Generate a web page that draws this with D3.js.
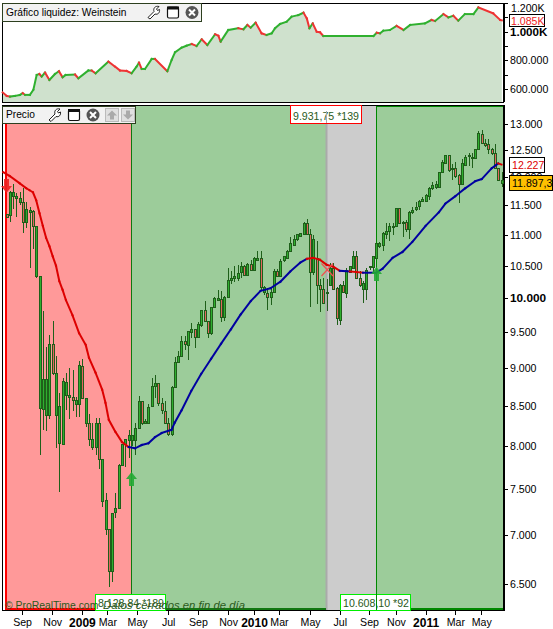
<!DOCTYPE html>
<html><head><meta charset="utf-8">
<script src="https://cdn.jsdelivr.net/npm/d3@7"></script>
<style>html,body{margin:0;padding:0;background:#fff}svg{display:block}text{font-family:"Liberation Sans",Arial,sans-serif}</style>
</head><body><svg id="c" width="553" height="629"></svg>
<script>
// weekly candles: one [open, high, low, close] per week, starting the week of 28 Jul 2008
const candles = [
[11350,11350,11300,11300],[11330,11760,11215,11730],[11660,11875,11435,11730],[11625,11715,11300,11660],
[11555,11730,11500,11625],[11555,11800,11035,11215],[11215,11560,11115,11435],[11380,11480,10470,11415],
[11400,11420,10775,11150],[10335,11150,10300,11150],[8465,10335,7900,10335],[8465,9810,8200,8855],
[8390,9290,8190,8855],[8390,9460,8340,9335],[9335,9660,8900,8935],[8390,9165,7975,8935],
[8035,8670,7470,8500],[8035,8860,8035,8830],[8645,8930,8450,8815],[8620,9000,8340,8645],
[8620,8975,8440,8580],[8525,8620,8365,8580],[8525,9090,8365,9040],[9025,9130,8605,8605],
[8290,8605,8230,8605],[8290,8400,8000,8090],[7990,8290,7960,8090],[7990,8350,7900,8290],
[8290,8350,7730,7850],[7370,7850,7300,7850],[7065,7460,7000,7380],[7065,7065,6470,6630],
[6630,7235,6520,7235],[7245,7450,7175,7290],[7290,7790,7280,7780],[7780,8025,7760,8025],
[8035,8090,7750,8090],[8075,8200,7860,8140],[8075,8140,8000,8140],[8075,8290,7900,8225],
[8225,8630,8210,8565],[8565,8565,8260,8290],[8290,8330,8270,8310],[8290,8530,8270,8490],
[8500,8870,8490,8765],[8765,8900,8600,8805],[8805,8805,8500,8540],[8540,8600,8400,8450],
[8440,8560,8280,8290],[8290,8350,8120,8150],[8150,8760,8120,8750],[8750,9150,8740,9085],
[9085,9235,9085,9165],[9165,9445,9165,9375],[9375,9445,9250,9335],[9320,9520,9115,9515],
[9500,9630,9415,9540],[9540,9545,9280,9430],[9430,9640,9410,9615],[9600,9825,9570,9825],
[9825,9960,9650,9660],[9660,9660,9415,9490],[9490,9870,9460,9870],[9870,10010,9870,10000],
[9970,10120,9970,10000],[9985,10110,9650,9725],[9725,10030,9660,10015],[10015,10460,10000,10280],
[10280,10420,10210,10310],[10310,10500,10250,10340],[10310,10510,10260,10390],[10400,10560,10300,10490],
[10490,10510,10340,10350],[10350,10540,10340,10530],[10530,10590,10440,10440],[10440,10640,10430,10625],
[10600,10730,10590,10625],[10625,10730,10130,10170],[10090,10180,10045,10170],[10080,10150,9820,10015],
[10015,10160,9900,10095],[10095,10450,10090,10420],[10420,10450,10330,10335],[10340,10600,10330,10580],
[10580,10650,10560,10650],[10625,10750,10600,10740],[10740,10970,10740,10870],[10840,11000,10820,10935],
[10935,11015,10900,11015],[10985,11035,10960,11035],[11015,11215,10990,11200],[11200,11270,11000,11015],
[11015,11100,9870,10400],[10400,11000,10350,10935],[10625,10900,9910,10200],[10200,10290,9800,10140],
[10140,10310,9925,9925],[10100,10290,9810,10080],[10200,10550,10200,10470],[10470,10550,10130,10150],
[10150,10170,9600,9700],[9680,10220,9610,10200],[10200,10260,10080,10090],[10090,10470,10000,10440],
[10400,10490,10380,10490],[10470,10730,10460,10660],[10660,10730,10290,10310],[10310,10420,10170,10200],
[10150,10260,9925,10235],[10150,10460,9970,10440],[10470,10490,10430,10490],[10470,10660,10400,10650],
[10625,10870,10600,10870],[10820,10880,10780,10870],[10840,11040,10740,11030],[11015,11200,10930,11065],
[11065,11200,10900,11150],[11135,11200,11000,11150],[11150,11450,11140,11450],[11450,11450,11180,11200],
[11200,11240,10970,11215],[11215,11250,11040,11100],[11100,11400,10930,11380],[11380,11470,11350,11415],
[11450,11550,11400,11480],[11480,11590,11420,11570],[11570,11640,11550,11610],[11570,11690,11550,11675],
[11660,11820,11600,11800],[11800,11920,11770,11860],[11820,11930,11780,11875],[11820,12100,11800,12090],
[12090,12320,12070,12270],[12250,12400,12240,12400],[12400,12400,12100,12130],[12140,12240,11950,12160],
[12170,12270,11980,12030],[12030,12060,11540,11875],[11875,12330,11850,12250],[12230,12400,12200,12370],
[12380,12450,12200,12400],[12370,12450,12170,12350],[12350,12520,12340,12520],[12520,12860,12510,12830],
[12810,12880,12630,12640],[12640,12700,12550,12600],[12620,12700,12420,12520],[12520,12530,12400,12440],
[12440,12610,12150,12160],[12160,12170,11930,11945],[11900,12100,11820,11945]];

// moving average, read every few weeks
const maWeeks = [-1,1,4,6,7,8,9,10,11,12,13,14,15,16,17,18,20,22,24,25,27,29,30,31,33,35,37,39,41,43,45,47,50,51,53,56,59,62,65,68,71,74,77,80,83,86,89,91,93,95,97,99,101,104,108,112,114,117,120,123,127,131,133,136,139,142,144,147,149,150];
const maValues = [12090,12020,11890,11800,11765,11730,11590,11365,11150,10950,10815,10650,10500,10260,10125,9970,9745,9485,9320,9140,8935,8710,8540,8325,8175,8050,7990,7975,8015,8035,8110,8160,8200,8290,8440,8695,8920,9125,9335,9540,9760,9955,10110,10150,10250,10410,10550,10610,10625,10595,10515,10485,10420,10410,10390,10390,10455,10625,10720,10885,11150,11380,11530,11660,11800,11925,11965,12160,12250,12230];
// weeks between which the average is drawn red (otherwise blue)
const maRedSpans = [[-1,38],[91,92.5],[93.5,102],[105,109],[148.5,151]];

// equity curve
const eqWeeks = [-1.15,0.05,1.06,2.58,4.09,4.9,5.6,7.1,8.13,9.14,9.95,10.66,11.67,12.98,14.7,15.9,17,17.9,20.76,21.77,24.8,25.8,27,30.86,32.88,34.4,36.4,37.9,39.4,40.15,40.96,41.97,44,45,48.74,50.05,51.06,53.08,54.6,56.1,57.6,59.14,60.86,63.2,64.2,64.9,67.2,70.25,71.8,73,74,75.5,77.3,78.8,80.35,81.36,82.9,84.9,86.4,88.4,90,91,91.8,92.8,94,95,96,111.2,112.2,113.2,114.2,116.2,118.2,120.3,122.3,126.8,128.8,129.9,132.4,133.9,135.4,136.9,138.9,141.5,143,147.5,149.6,150.1];
const eqValues = [576,552,547,552,559,571,559,559,594,698,705,687,715,663,705,724,682,698,701,675,729,729,710,791,756,729,726,710,756,784,740,740,810,810,724,803,856,889,903,914,900,947,907,982,972,931,1012,1024,1017,1047,1028,1063,989,977,989,1024,1054,1070,1105,1116,1133,1093,1024,1058,1000,996,970,970,993,989,1007,1012,1040,1012,1047,1058,1082,1075,1123,1100,1112,1077,1123,1123,1170,1128,1082,1079];

const xTickDates = ["2008-08-30","2008-11-02","2009-01-04","2009-02-27","2009-05-01","2009-07-06","2009-09-07","2009-11-10","2010-01-04","2010-02-26","2010-05-03","2010-07-05","2010-09-05","2010-11-01","2011-01-03","2011-03-07","2011-05-01"];
const xTickLabels = ["Sep","Nov","2009","Mar","May","Jul","Sep","Nov","2010","Mar","May","Jul","Sep","Nov","2011","Mar","May"];
const priceTicks = [13000,12500,12000,11500,11000,10500,10000,9500,9000,8500,8000,7500,7000,6500];
const equityTicks = [1200,1100,1000,900,800,700,600];
const equityLabels = {800:"800.000",600:"600.000",1000:"1.000K"};

const startDate = new Date(2008,6,28);
const weekDate = w => d3.timeHour.offset(startDate, Math.round(w*168));
const x = d3.scaleTime().domain([weekDate(0),weekDate(150)]).range([6.5,501.5]);
const xw = w => x(weekDate(w));
const y = d3.scaleLog().domain([13000,6500]).range([124,584]);
const yEq = d3.scaleLinear().domain([600,1000]).range([89,31.7]);

const svg = d3.select("#c");
const DARK="#1f5f1a", GREEN="#2fae2f", SALMON="#e2655f", FS="10.6px";

// ---- equity panel
const topG = svg.append("g");
topG.append("rect").attr("x",2.5).attr("y",3.5).attr("width",501).attr("height",99).attr("fill","#fff").attr("stroke","#000");
const eqData = eqWeeks.map((w,i)=>({w,v:eqValues[i]}));
svg.append("clipPath").attr("id","ct").append("rect").attr("x",3).attr("y",4).attr("width",499).attr("height",98);
topG.append("path").datum(eqData).attr("clip-path","url(#ct)").attr("fill","#cfe1cd")
  .attr("d",d3.area().x(d=>xw(d.w)).y0(102).y1(d=>yEq(d.v)));
topG.selectAll("line.eq").data(d3.pairs(eqData)).join("line").attr("class","eq")
  .attr("x1",d=>xw(d[0].w)).attr("x2",d=>xw(d[1].w)).attr("y1",d=>yEq(d[0].v)).attr("y2",d=>yEq(d[1].v))
  .attr("stroke",d=>d[1].v<d[0].v?"#ee3333":"#2fb02f").attr("stroke-width",2).attr("stroke-linecap","square");
const eqAxis = topG.append("g").attr("transform","translate(504,0)")
  .call(d3.axisRight(yEq).tickValues(equityTicks).tickSize(4).tickPadding(2).tickFormat(d=>equityLabels[d]||""));
eqAxis.select(".domain").attr("stroke","#000").attr("d","M0.5,3V102");
eqAxis.selectAll("text").attr("fill","#000").style("font-size",d=>d===1000?"11.6px":FS).attr("font-weight",d=>d===1000?"bold":"normal").attr("x",6);
eqAxis.selectAll("line").attr("stroke","#000").attr("shape-rendering","crispEdges");
topG.append("text").attr("x",511).attr("y",12).style("font-size",FS).text("1.200K");
topG.append("rect").attr("x",509.5).attr("y",14.5).attr("width",35).attr("height",12).attr("fill","#fff").attr("stroke","#000");
topG.append("text").attr("x",511).attr("y",24.5).style("font-size",FS).attr("fill","#ee2222").text("1.085K");

// ---- price panel
const main = svg.append("g");
main.append("rect").attr("x",2.5).attr("y",105.5).attr("width",501).attr("height",505).attr("fill","#fff").attr("stroke","#000");
const regions = [{a:[6,131.5],f:"#ff9999"},{a:[131.5,326],f:"#9ccc9a"},{a:[326,376],f:"#cccccc"},{a:[376,503],f:"#9ccc9a"}];
main.selectAll("rect.reg").data(regions).join("rect").attr("class","reg")
  .attr("x",d=>d.a[0]).attr("y",106).attr("width",d=>d.a[1]-d.a[0]).attr("height",504).attr("fill",d=>d.f);
[[6,"#ff0000",2],[131.5,"#117711",1],[326.5,"#aaaaaa",2],[376.5,"#008800",1]].forEach(e=>{
  main.append("line").attr("x1",e[0]).attr("x2",e[0]).attr("y1",106).attr("y2",610).attr("stroke",e[1]).attr("stroke-width",e[2]);
});
[[6,131,"#ff0000"],[131,326,"#117711"],[376,503,"#008800"]].forEach(e=>{
  main.append("line").attr("x1",e[0]).attr("x2",e[1]).attr("y1",609).attr("y2",609).attr("stroke",e[2]).attr("stroke-width",2);
});
main.append("line").attr("x1",376).attr("x2",503).attr("y1",106.5).attr("y2",106.5).attr("stroke","#008800");

// candles
const cg = main.append("g").attr("shape-rendering","crispEdges");
const cx = i => Math.round(xw(i));
cg.selectAll("line").data(candles).join("line")
  .attr("x1",(d,i)=>cx(i)+.5).attr("x2",(d,i)=>cx(i)+.5).attr("y1",d=>y(d[1])).attr("y2",d=>y(d[2])).attr("stroke",DARK);
cg.selectAll("rect").data(candles).join("rect")
  .attr("x",(d,i)=>cx(i)-.5).attr("width",2)
  .attr("y",d=>Math.round(y(Math.max(d[0],d[3])))+.5)
  .attr("height",d=>Math.max(1,Math.round(Math.abs(y(d[0])-y(d[3])))))
  .attr("fill",d=>d[3]>=d[0]?GREEN:SALMON).attr("stroke",DARK);

// moving average
const maData = maWeeks.map((w,i)=>({w,v:maValues[i]}));
const isRed = w => maRedSpans.some(s=>w>=s[0]&&w<s[1]);
main.selectAll("line.ma").data(d3.pairs(maData)).join("line").attr("class","ma")
  .attr("x1",d=>xw(d[0].w)).attr("x2",d=>xw(d[1].w)).attr("y1",d=>y(d[0].v)).attr("y2",d=>y(d[1].v))
  .attr("stroke",d=>isRed((d[0].w+d[1].w)/2)?"#dd0000":"#0000a0").attr("stroke-width",2).attr("stroke-linecap","square");

// signals
const arrow = (cxp,ty,col,dir) => {
  main.append("path").attr("fill",col).attr("opacity",.9)
    .attr("d",`M${cxp},${ty}l5.5,7h-3v7h-5v-7h-3z`)
    .attr("transform",dir<0?`rotate(180 ${cxp} ${ty+7})`:null);
};
arrow(6.5,179,"#ee2222",-1);
arrow(131.5,472,"#22aa33",1);
arrow(376.5,267,"#22aa33",1);
main.append("path").attr("d","M321.5,263.5L333,276M333,263.5L321.5,276").attr("stroke","#f05050").attr("fill","none").attr("stroke-width",1.2);

// axes
const pa = main.append("g").attr("transform","translate(504,0)")
  .call(d3.axisRight(y).tickValues(priceTicks).tickSize(4).tickPadding(2).tickFormat(d=>d3.format(",")(d).replace(",",".")));
pa.select(".domain").attr("stroke","#000").attr("d","M0.5,105V611");
pa.selectAll("text").attr("fill","#000").style("font-size",d=>d===10000?"11.8px":FS).attr("font-weight",d=>d===10000?"bold":"normal").attr("x",6);
pa.selectAll("line").attr("stroke","#000").attr("shape-rendering","crispEdges");
const xa = main.append("g").attr("transform","translate(0,610)")
  .call(d3.axisBottom(x).tickValues(xTickDates.map(s=>new Date(s+"T00:00:00"))).tickSize(5).tickPadding(3).tickFormat((d,i)=>xTickLabels[i]));
xa.select(".domain").attr("stroke","#000").attr("d","M2,0.5H505");
xa.selectAll("line").attr("stroke","#000").attr("shape-rendering","crispEdges");
xa.selectAll("text").attr("fill","#000").style("font-size",(d,i)=>/^20/.test(xTickLabels[i])?"12px":FS)
  .attr("font-weight",(d,i)=>/^20/.test(xTickLabels[i])?"bold":"normal");

// value flags
const flag=(bx,by,w,h,stroke,txt,tc,fill)=>{
  main.append("rect").attr("x",bx+.5).attr("y",by+.5).attr("width",w).attr("height",h).attr("fill",fill||"#fff").attr("stroke",stroke).attr("stroke-width",1);
  main.append("text").attr("x",bx+3).attr("y",by+h-3).style("font-size",FS).attr("fill",tc).text(txt);
};
flag(290,105,71,18,"#ff0000","9.931,75 *139","#2a5a1a");
main.append("line").attr("x1",326.5).attr("x2",326.5).attr("y1",111).attr("y2",123).attr("stroke","#aaaaaa");
flag(95,594,70,16,"#00ee00","8.128,84 *189","#2a5a1a");
flag(340,594,70,16,"#00ee00","10.608,10 *92","#2a5a1a");
main.append("line").attr("x1",376.5).attr("x2",376.5).attr("y1",594).attr("y2",610).attr("stroke","#008800");
flag(509,157,35,15,"#000","12.227","#dd0000");
flag(509,175,43,15,"#000","11.897,3","#000","#ffc000");
main.append("text").attr("x",5).attr("y",609).style("font-size","10.4px").attr("fill","#2a5a1a").text("© ProRealTime.com");
main.append("text").attr("x",103).attr("y",609).style("font-size","11.3px").attr("font-style","italic").attr("fill","#2a5a1a").text("Datos cerrados en fin de día");

// window headers
const header=(bx,by,w,h,label,iconX,extra)=>{
  const g=svg.append("g");
  g.append("rect").attr("x",bx+.5).attr("y",by+.5).attr("width",w).attr("height",h).attr("fill","#f2f2f2").attr("stroke","#2d3f1f");
  g.append("text").attr("x",bx+4).attr("y",by+h-5).style("font-size","10.2px").attr("fill","#000").text(label);
  const ic=by+h/2+.5;
  g.append("path").attr("transform",`translate(${iconX},${ic-7})`)
    .attr("d","M1,12 L7,6 C6,3 8,0 12,1 L9.5,3.5 L10.5,5 L12.5,4 C13,7 11,9.5 8,8.5 L3,13.5 Z")
    .attr("fill","#fff").attr("stroke","#222");
  g.append("rect").attr("x",iconX+20.5).attr("y",ic-5.5).attr("width",11).attr("height",11).attr("rx",1.5).attr("fill","#fff").attr("stroke","#111").attr("stroke-width",1.2);
  g.append("rect").attr("x",iconX+20).attr("y",ic-6).attr("width",12).attr("height",3).attr("fill","#111");
  g.append("circle").attr("cx",iconX+45).attr("cy",ic).attr("r",6.5).attr("fill","#555");
  g.append("path").attr("d",`M${iconX+42},${ic-3}L${iconX+48},${ic+3}M${iconX+48},${ic-3}L${iconX+42},${ic+3}`).attr("stroke","#fff").attr("stroke-width",2);
  if(extra){
    [[iconX+57,-1],[iconX+73,1]].forEach(a=>{
      g.append("rect").attr("x",a[0]+.5).attr("y",ic-6.5).attr("width",13).attr("height",13).attr("fill","#e0e0e0").attr("stroke","#bbb");
      g.append("path").attr("transform",`translate(${a[0]+7},${ic}) scale(1,${a[1]})`).attr("d","M0,4.5 L5,-0.5 H2 V-4.5 H-2 V-0.5 H-5 Z").attr("fill","#aaa");
    });
  }
};
header(2,3,199,18,"Gráfico liquidez: Weinstein",147,false);
header(2,106,133,17,"Precio",48,true);
</script></body></html>
